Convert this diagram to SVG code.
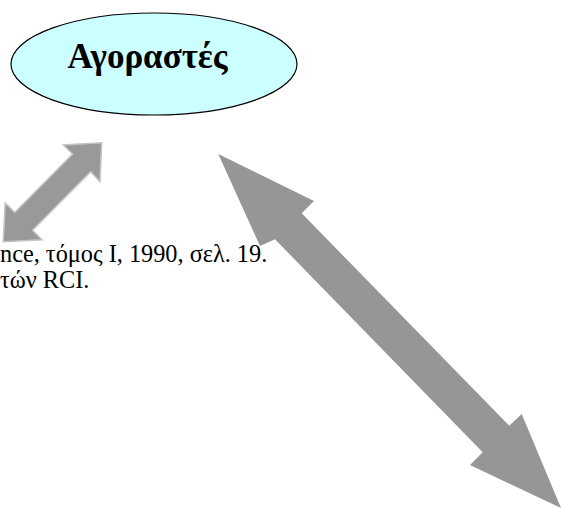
<svg xmlns="http://www.w3.org/2000/svg" width="561" height="508" viewBox="0 0 561 508">
  <style>
    .node-shape { fill: #ccffff; stroke: #000000; stroke-width: 1.2; }
    .node-label { font-family: "Liberation Serif", "Times New Roman", serif; font-weight: bold; font-size: 35px; fill: #000000; text-anchor: middle; }
    .caption { font-family: "Liberation Serif", "Times New Roman", serif; font-size: 24.3px; fill: #000000; }
    .arrow-small { fill: #999999; stroke: #c4c4c4; stroke-width: 1.5; stroke-linejoin: miter; }
    .arrow-big { fill: #969696; stroke: none; }
  </style>
  <rect width="561" height="508" fill="#ffffff"/>
  <g id="connectors">
    <polygon id="arrow-small" class="arrow-small" points="101.7,142.7 100,181.7 90.7,171.7 32.5,230.3 42,239.8 3.3,241.7 5.2,203 14.7,212.5 72.7,154 63.3,145"/>
    <polygon id="arrow-big" class="arrow-big" points="218.3,154 314,201 301.7,213.3 509.3,425.7 521.7,414 561,508 470,465 482.7,452.3 275,239.3 260,246"/>
  </g>
  <g id="node-buyers">
    <ellipse class="node-shape" cx="154" cy="64" rx="143" ry="51"/>
    <text class="node-label" x="147.5" y="68">Αγοραστές</text>
  </g>
  <g id="caption">
    <text class="caption" x="0" y="262">nce, τόμος Ι, 1990, σελ. 19.</text>
    <text class="caption" x="0" y="288">τών RCI.</text>
  </g>
</svg>
